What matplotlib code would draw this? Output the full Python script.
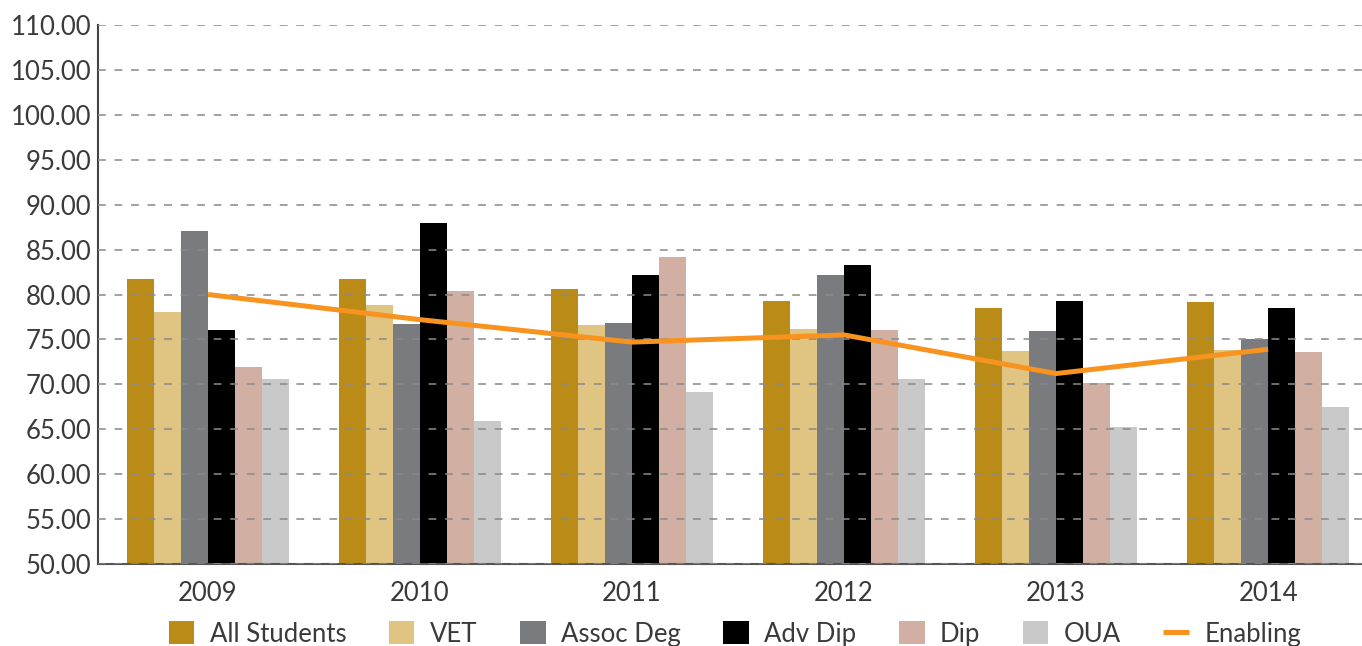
import numpy as np
import matplotlib
matplotlib.use("Agg")
import matplotlib.pyplot as plt
from matplotlib.ticker import FormatStrFormatter

# --- data ---
years = ["2009", "2010", "2011", "2012", "2013", "2014"]
all_students = [81.7, 81.7, 80.6, 79.3, 78.5, 79.2]
vet = [78.0, 78.8, 76.6, 76.2, 73.7, 73.8]
assoc_deg = [87.1, 76.7, 76.8, 82.2, 75.9, 75.1]
adv_dip = [76.1, 88.0, 82.2, 83.3, 79.3, 78.5]
dip = [71.9, 80.4, 84.2, 76.1, 70.2, 73.6]
oua = [70.6, 65.9, 69.2, 70.6, 65.3, 67.5]
enabling = [80.0, 77.2, 74.7, 75.5, 71.2, 73.9]

series = [("All Students", all_students, "#BA8B16"), ("VET", vet, "#E0C481"),
          ("Assoc Deg", assoc_deg, "#797B7E"), ("Adv Dip", adv_dip, "#000000"),
          ("Dip", dip, "#D1AFA2"), ("OUA", oua, "#C8C9C8")]

plt.rcParams['font.family'] = ['Lato', 'DejaVu Sans']
fig = plt.figure(figsize=(13.62, 6.46), dpi=100)
ax = fig.add_axes([98/1362, 82/646, 1264/1362, 539/646])

x = np.arange(len(years)); w = 0.127
handles = []
for i, (name, vals, col) in enumerate(series):
    handles.append(ax.bar(x + (i - 2.5) * w, np.array(vals) - 50, w, bottom=50, color=col, label=name, zorder=2))
line, = ax.plot(x, enabling, color="#F7931E", lw=3.6, label="Enabling", zorder=4, solid_capstyle='butt')
handles.append(line)

ax.set_ylim(50, 110); ax.set_yticks(np.arange(50, 111, 5))
ax.yaxis.set_major_formatter(FormatStrFormatter('%.2f'))
ax.set_xlim(-0.519, 5.443)
ax.set_xticks(x); ax.set_xticklabels(years)
ax.grid(axis='y', color='#8a8a8a', ls=(0, (4, 4.5)), lw=1.4, alpha=0.8, zorder=3)
ax.set_axisbelow(False)
for s in ['top', 'right']: ax.spines[s].set_visible(False)
ax.spines['left'].set_color('#444444'); ax.spines['left'].set_linewidth(1.5)
ax.spines['bottom'].set_color('#555555'); ax.spines['bottom'].set_linewidth(1.5)
ax.tick_params(axis='both', length=0, labelsize=18.5, labelcolor='#3a3a3a')
ax.tick_params(axis='x', pad=12); ax.tick_params(axis='y', pad=5)

fig.legend(handles=handles, loc='center', bbox_to_anchor=(735/1362, 1 - 634/646), ncol=7, frameon=False,
           fontsize=18.5, handlelength=1.0, handleheight=1.0, handletextpad=0.6, columnspacing=1.65,
           labelcolor='#3a3a3a', borderpad=0)
fig.savefig("out.png", dpi=100)
